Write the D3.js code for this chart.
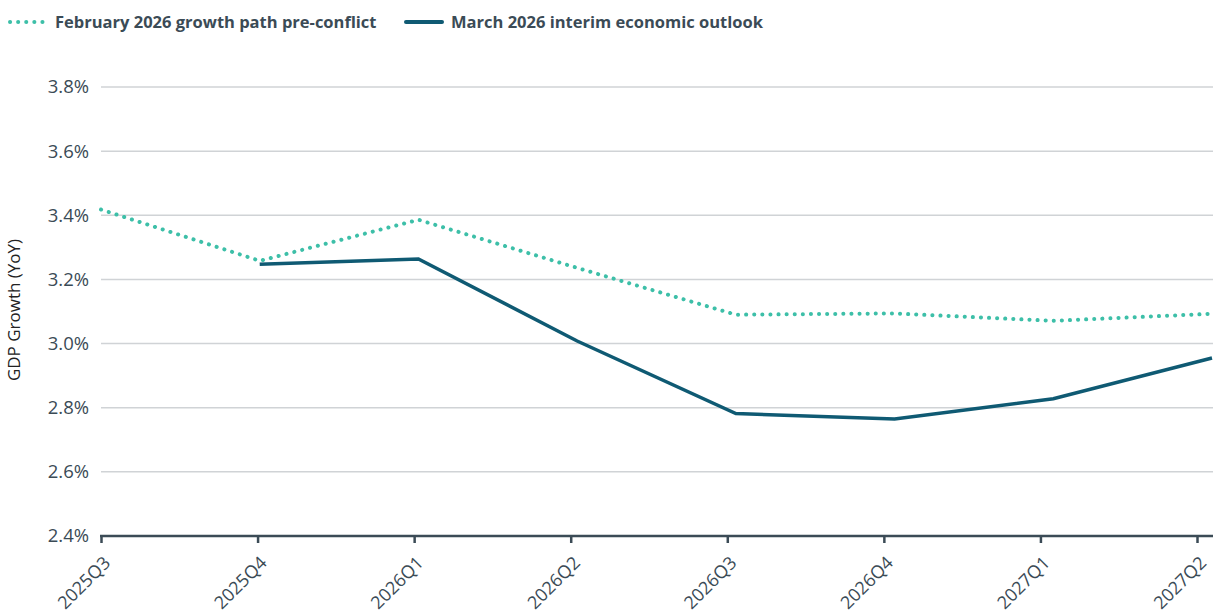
<!DOCTYPE html>
<html>
<head>
<meta charset="utf-8">
<script src="https://cdn.jsdelivr.net/npm/d3@7"></script>
<style>
  body { margin: 0; background: #fff; }
  text { font-family: "Open Sans", sans-serif; }
</style>
</head>
<body>
<div id="chart"></div>
<script>
// quarters on the x axis
const quarters = ['2025Q3', '2025Q4', '2026Q1', '2026Q2', '2026Q3', '2026Q4', '2027Q1', '2027Q2'];
// GDP growth, YoY %
const februaryPath = [3.418, 3.258, 3.386, 3.236, 3.09, 3.094, 3.071, 3.093];
const marchOutlook = [null, 3.247, 3.264, 3.008, 2.782, 2.765, 2.828, 2.955];
const yTicks = [2.4, 2.6, 2.8, 3.0, 3.2, 3.4, 3.6, 3.8];

const width = 1221;
const height = 615;
const axisColor = '#3b4b56';
const febColor = '#3dbfa8';
const marColor = '#0f5a73';

let svg = d3.select('#chart')
    .append('svg')
    .attr('width', width)
    .attr('height', height)
;

// ticks stop at the last quarter, series run out to the plot edge
let xTick = d3.scalePoint().domain(quarters).range([101, 1197]);
let xLine = d3.scalePoint().domain(quarters).range([101, 1212]);
let y = d3.scaleLinear().domain([2.4, 3.8]).range([536, 87]);

// gridlines
svg.append('g')
    .selectAll('line')
    .data(yTicks.slice(1))
    .enter()
    .append('line')
    .attr('x1', 101)
    .attr('x2', 1213)
    .attr('y1', d => y(d))
    .attr('y2', d => y(d))
    .style('stroke', '#d0d3d6')
    .style('stroke-width', 1.5)
;

// y labels
svg.append('g')
    .selectAll('text')
    .data(yTicks)
    .enter()
    .append('text')
    .attr('x', 89)
    .attr('y', d => y(d))
    .attr('dy', '0.35em')
    .attr('text-anchor', 'end')
    .style('font-size', '18.5px')
    .style('fill', axisColor)
    .text(d => d.toFixed(1) + '%')
;

// y title
svg.append('text')
    .attr('transform', 'translate(20, 310) rotate(-90)')
    .attr('text-anchor', 'middle')
    .style('font-size', '17px')
    .style('fill', '#222')
    .text('GDP Growth (YoY)')
;

// x axis
let xAxis = svg.append('g')
    .attr('transform', 'translate(0, 536)')
    .call(d3.axisBottom(xTick).tickSize(7).tickSizeOuter(0))
;
xAxis.select('.domain')
    .attr('d', 'M100,0H1213')
    .style('stroke', axisColor)
    .style('stroke-width', 2.5)
;
xAxis.selectAll('.tick line')
    .style('stroke', axisColor)
    .style('stroke-width', 2.5)
;
xAxis.selectAll('.tick text')
    .style('font-size', '18px')
    .style('fill', axisColor)
    .style('font-family', '"Open Sans", sans-serif')
    .attr('text-anchor', 'end')
    .attr('x', 0)
    .attr('y', 0)
    .attr('dy', 0)
    .attr('transform', 'translate(10, 28) rotate(-45)')
;

// series
let line = d3.line()
    .defined(d => d.v != null)
    .x(d => xLine(d.q))
    .y(d => y(d.v))
;
svg.append('path')
    .datum(quarters.map((q, i) => ({q: q, v: februaryPath[i]})))
    .attr('d', line)
    .style('fill', 'none')
    .style('stroke', febColor)
    .style('stroke-width', 4)
    .style('stroke-linecap', 'round')
    .style('stroke-dasharray', '0.1 8')
;
svg.append('path')
    .datum(quarters.map((q, i) => ({q: q, v: marchOutlook[i]})))
    .attr('d', line)
    .style('fill', 'none')
    .style('stroke', marColor)
    .style('stroke-width', 3.5)
;

// legend
let legend = svg.append('g');
legend.append('line')
    .attr('x1', 10).attr('x2', 48).attr('y1', 22).attr('y2', 22)
    .style('stroke', febColor)
    .style('stroke-width', 4)
    .style('stroke-linecap', 'round')
    .style('stroke-dasharray', '0.1 8')
;
legend.append('text')
    .attr('x', 55).attr('y', 22).attr('dy', '0.35em')
    .style('font-size', '16.5px')
    .style('font-weight', 'bold')
    .style('fill', axisColor)
    .text('February 2026 growth path pre-conflict')
;
legend.append('line')
    .attr('x1', 406).attr('x2', 442).attr('y1', 22).attr('y2', 22)
    .style('stroke', marColor)
    .style('stroke-width', 4)
    .style('stroke-linecap', 'round')
;
legend.append('text')
    .attr('x', 451).attr('y', 22).attr('dy', '0.35em')
    .style('font-size', '16.5px')
    .style('font-weight', 'bold')
    .style('fill', axisColor)
    .text('March 2026 interim economic outlook')
;
</script>
</body>
</html>
